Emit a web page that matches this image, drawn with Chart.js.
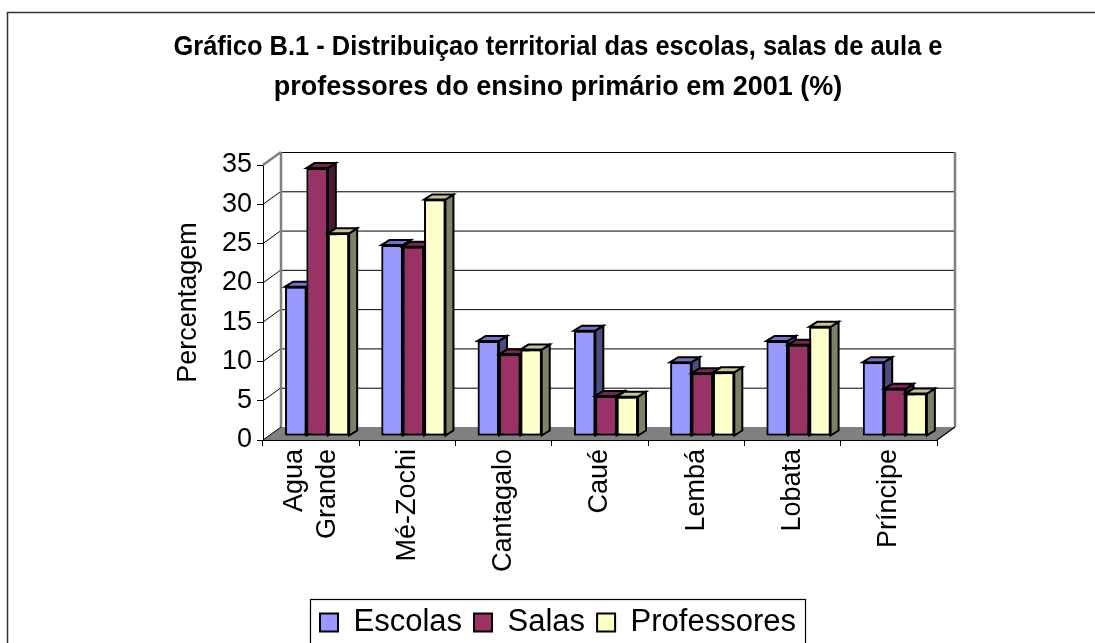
<!DOCTYPE html>
<html>
<head>
<meta charset="utf-8">
<script src="https://cdn.jsdelivr.net/npm/chart.js@4.4.1/dist/chart.umd.min.js"></script>
<style>
  html, body { margin: 0; padding: 0; background: #fff; }
  canvas { display: block; }
</style>
</head>
<body>
<canvas id="chart" width="1095" height="643"></canvas>
<script>
// values (%)
const categories = [['Agua', 'Grande'], 'Mé-Zochi', 'Cantagalo', 'Caué', 'Lembá', 'Lobata', 'Príncipe'];
const escolas = [19.0, 24.3, 12.1, 13.4, 9.4, 12.1, 9.4];
const salas = [34.1, 24.1, 10.4, 5.1, 8.0, 11.6, 6.0];
const professores = [25.8, 30.1, 11.0, 5.0, 8.1, 13.9, 5.4];
const yTicks = [0, 5, 10, 15, 20, 25, 30, 35];

const FONT = 'Arial, "Liberation Sans", sans-serif';
const WALL = { dx: 18, dy: -13 };      // back wall offset from the front axis
const SHIFT = { dx: 6, dy: -4 };       // bars sit half way into the floor
const DEPTH = { dx: 8, dy: -5 };       // bar thickness
const LEG_FONT = 31, LEG_PAD = 12;

const faces = [
  { side: '#4c4c80', top: '#7474c4' },
  { side: '#4c1933', top: '#74264e' },
  { side: '#80806a', top: '#c4c49c' }
];

function poly(ctx, pts, fill, stroke, lw) {
  ctx.beginPath();
  ctx.moveTo(pts[0][0], pts[0][1]);
  for (let i = 1; i < pts.length; i++) ctx.lineTo(pts[i][0], pts[i][1]);
  ctx.closePath();
  if (fill) { ctx.fillStyle = fill; ctx.fill(); }
  if (stroke) { ctx.strokeStyle = stroke; ctx.lineWidth = lw || 1; ctx.stroke(); }
}

function line(ctx, x1, y1, x2, y2, color, lw) {
  ctx.beginPath();
  ctx.moveTo(x1, y1);
  ctx.lineTo(x2, y2);
  ctx.strokeStyle = color;
  ctx.lineWidth = lw;
  ctx.stroke();
}

const excel3d = {
  id: 'excel3d',
  afterLayout(chart) {
    // the original centres the title and the legend a bit right of the plot centre
    if (chart.titleBlock) { chart.titleBlock.left += 5.5; chart.titleBlock.right += 5.5; }
    const lg = chart.legend;
    if (lg) {
      lg.left += 5.5; lg.right += 5.5;
      const h = lg.height;
      lg.top = 622.5 - LEG_PAD - LEG_FONT / 2;
      lg.bottom = lg.top + h;
    }
  },
  beforeDraw(chart) {
    const ctx = chart.ctx;
    ctx.save();
    line(ctx, 7, 12.5, chart.width, 12.5, '#333', 1.5);
    line(ctx, 7.5, 12, 7.5, chart.height, '#333', 1.5);
    ctx.restore();
    // two-line category labels: centre the lines on the tick like the original
    const items = chart.scales.x.getLabelItems(chart.chartArea);
    const lh = 27 * 1.2;
    items.forEach(it => {
      if (Array.isArray(it.label) && !it._centred) {
        it.textOffset -= (it.label.length - 1) * lh / 2;
        it._centred = true;
      }
    });
  },
  beforeDatasetsDraw(chart) {
    const ctx = chart.ctx;
    const a = chart.chartArea;
    const y = chart.scales.y;
    const bl = a.left + WALL.dx, br = a.right + WALL.dx;
    ctx.save();
    // floor
    poly(ctx, [[a.left, a.bottom], [a.right, a.bottom], [br, a.bottom + WALL.dy], [bl, a.bottom + WALL.dy]], '#808080');
    // back wall grid and left wall diagonals
    yTicks.forEach(v => {
      const py = y.getPixelForValue(v);
      if (v > 0) line(ctx, bl, py + WALL.dy + 0.5, br, py + WALL.dy + 0.5, '#000', 1);
      if (v > 0 && v < 35) line(ctx, a.left, py, bl, py + WALL.dy, '#000', 1);
    });
    const top = y.getPixelForValue(35);
    line(ctx, a.left, top, bl, top + WALL.dy, '#808080', 2.5);
    line(ctx, bl, top + WALL.dy, bl, a.bottom + WALL.dy, '#808080', 2.5);
    line(ctx, br, top + WALL.dy, br, a.bottom + WALL.dy, '#808080', 2.5);
    line(ctx, a.left, a.bottom, bl, a.bottom + WALL.dy, '#000', 1);
    line(ctx, a.right, a.bottom, br, a.bottom + WALL.dy, '#000', 1.2);
    line(ctx, a.left, a.bottom + 0.5, a.right, a.bottom + 0.5, '#000', 1.2);
    ctx.restore();
    ctx.save();
    ctx.translate(SHIFT.dx, SHIFT.dy);
  },
  afterDatasetsDraw(chart) {
    const ctx = chart.ctx;
    const metas = chart.data.datasets.map((d, i) => chart.getDatasetMeta(i));
    for (let k = 0; k < chart.data.labels.length; k++) {
      metas.forEach((meta, i) => {
        const bar = meta.data[k];
        bar.draw(ctx);
        const { x, y, base, width } = bar.getProps(['x', 'y', 'base', 'width'], true);
        const l = x - width / 2, r = x + width / 2;
        poly(ctx, [[r, y], [r + DEPTH.dx, y + DEPTH.dy], [r + DEPTH.dx, base + DEPTH.dy], [r, base]], faces[i].side, '#000', 2);
        poly(ctx, [[l, y], [l + DEPTH.dx, y + DEPTH.dy], [r + DEPTH.dx, y + DEPTH.dy], [r, y]], faces[i].top, '#000', 2);
      });
    }
    ctx.restore();
  },
  afterDraw(chart) {
    const lg = chart.legend;
    const hb = lg.legendHitBoxes;
    if (!hb || !hb.length) return;
    const last = hb[hb.length - 1];
    const ctx = chart.ctx;
    ctx.save();
    ctx.strokeStyle = '#000';
    ctx.lineWidth = 1.2;
    const x0 = Math.round(hb[0].left - 10) + 0.5;
    const x1 = Math.round(last.left + last.width + 9) + 0.5;
    ctx.strokeRect(x0, 599.5, x1 - x0, 60);
    ctx.restore();
  }
};

new Chart(document.getElementById('chart'), {
  type: 'bar',
  data: {
    labels: categories,
    datasets: [
      { label: 'Escolas', data: escolas, backgroundColor: '#9999ff' },
      { label: 'Salas', data: salas, backgroundColor: '#993366' },
      { label: 'Professores', data: professores, backgroundColor: '#ffffcc' }
    ]
  },
  options: {
    responsive: false,
    animation: false,
    devicePixelRatio: 1,
    layout: { padding: { left: 168, right: 158, top: 0, bottom: 0 } },
    datasets: {
      bar: {
        categoryPercentage: 0.665,
        barPercentage: 1,
        borderColor: '#000',
        borderWidth: 2,
        borderSkipped: false
      }
    },
    scales: {
      x: {
        grid: { offset: true, drawOnChartArea: false, tickLength: 6, color: '#000' },
        border: { display: true, color: '#000', width: 1 },
        ticks: {
          color: '#000',
          font: { family: FONT, size: 27 },
          minRotation: 90,
          maxRotation: 90,
          autoSkip: false,
          padding: 3
        },
        // keep the front axis at y = 440 whatever the legend needs
        afterFit(scale) {
          const lh = scale.chart.legend ? scale.chart.legend.height : 0;
          scale.height = scale.chart.height - lh - 440;
        }
      },
      y: {
        min: 0,
        max: 35,
        grid: { drawOnChartArea: false, tickLength: 6, color: '#000' },
        border: { display: true, color: '#000', width: 1 },
        ticks: {
          stepSize: 5,
          color: '#000',
          font: { family: FONT, size: 27 },
          padding: 5
        },
        title: {
          display: true,
          text: 'Percentagem',
          color: '#000',
          font: { family: FONT, size: 27 },
          padding: { top: 4, bottom: 0 }
        },
        afterFit(scale) { scale.width = 95; }
      }
    },
    plugins: {
      title: {
        display: true,
        text: ['Gráfico B.1 - Distribuiçao territorial das escolas, salas de aula e',
               'professores do ensino primário em 2001 (%)'],
        color: '#000',
        font: { family: FONT, size: 27, weight: 'bold', lineHeight: 40 / 27 },
        padding: { top: 27.5, bottom: 57.5 }
      },
      legend: {
        position: 'bottom',
        labels: {
          color: '#000',
          font: { family: FONT, size: LEG_FONT },
          boxWidth: 18,
          boxHeight: 18,
          padding: LEG_PAD
        }
      },
      tooltip: { enabled: false }
    }
  },
  plugins: [excel3d]
});
</script>
</body>
</html>
